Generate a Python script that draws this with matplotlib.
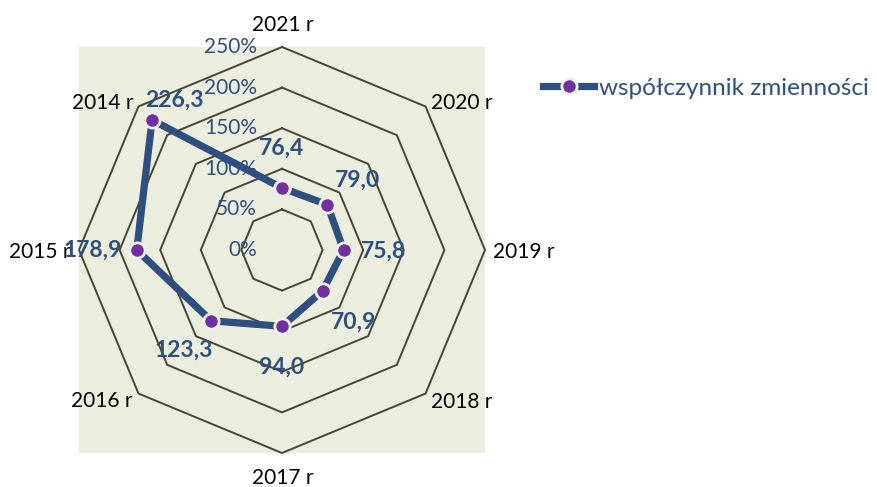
import numpy as np
import matplotlib
matplotlib.use("Agg")
import matplotlib.pyplot as plt
from matplotlib.patches import Rectangle

plt.rcParams['font.family'] = ['Lato', 'DejaVu Sans']

categories = ["2021 r", "2020 r", "2019 r", "2018 r", "2017 r", "2016 r", "2015 r", "2014 r"]
values = [76.4, 79.0, 75.8, 70.9, 94.0, 123.3, 178.9, 226.3]
value_labels = ["76,4", "79,0", "75,8", "70,9", "94,0", "123,3", "178,9", "226,3"]
r_ticks = [0, 50, 100, 150, 200, 250]
r_tick_labels = ["0%", "50%", "100%", "150%", "200%", "250%"]
series_name = "współczynnik zmienności"

W, H = 877, 487
fig = plt.figure(figsize=(W / 100, H / 100), dpi=100)

# background square of plot area
cx, cy, R = 282, 250, 203
fig.patches.append(Rectangle(((cx - R) / W, 1 - (cy + R) / H), 2 * R / W, 2 * R / H,
                             transform=fig.transFigure, facecolor="#EBEEDF",
                             edgecolor="none", zorder=0))

ax = fig.add_axes([(cx - R) / W, 1 - (cy + R) / H, 2 * R / W, 2 * R / H], projection="polar")
ax.set_zorder(2)
ax.patch.set_visible(False)
ax.set_theta_zero_location("N")
ax.set_theta_direction(-1)
ax.set_ylim(0, 250)
ax.grid(False)
ax.spines["polar"].set_visible(False)
ax.set_xticks([])
ax.set_yticks([])

n = len(categories)
theta = np.arange(n) * 2 * np.pi / n
theta_closed = np.append(theta, theta[0])

grid_color = "#4A4530"
for r in r_ticks[1:]:
    ax.plot(theta_closed, [r] * (n + 1), color=grid_color, lw=1.4, zorder=1, clip_on=False)

line_color = "#2F4F80"
vals_closed = values + [values[0]]
ln, = ax.plot(theta_closed, vals_closed, color=line_color, lw=5.2, zorder=3,
              marker="o", markersize=11, markerfacecolor="#7030A0",
              markeredgecolor="#F2F0E6", markeredgewidth=2, label=series_name,
              solid_joinstyle="round", clip_on=False)

# percent labels
for r, lab in zip(r_ticks, r_tick_labels):
    ax.annotate(lab, xy=(0, r), xytext=(-25 * 0.72, 0), textcoords="offset points",
                ha="right", va="center", fontsize=15, color="#2F4F80", zorder=2,
                annotation_clip=False)

# category labels (offsets in px from outer vertex, baseline aligned)
cat_off_px = [(1, 16), (36.5, -2.5), (38.5, -8), (36.5, -14.5), (1, -30.5),
              (-36.5, -13.5), (-39, -8), (-36, -2.5)]
for t, lab, (dx, dy) in zip(theta, categories, cat_off_px):
    ax.annotate(lab, xy=(t, r_ticks[-1]), xytext=(dx * 0.72, dy * 0.72),
                textcoords="offset points", ha="center", va="baseline",
                fontsize=15, color="black", annotation_clip=False)

# value labels
offsets_px = [(0, 40), (30, 24), (40, -1), (31, -31), (0, -41), (-27, -29), (-44, 0), (22, 20)]
for t, v, lab, (dx, dy) in zip(theta, values, value_labels, offsets_px):
    ax.annotate(lab, xy=(t, v), xytext=(dx * 0.72, dy * 0.72), textcoords="offset points",
                ha="center", va="center", fontsize=16.5, fontweight="bold", color="#2F4F80",
                zorder=5, annotation_clip=False)

leg = fig.legend(handles=[ln], loc="center left", bbox_to_anchor=(543 / W, 1 - 88 / H),
                 frameon=False, fontsize=17.5, handlelength=2.1, handletextpad=0.2,
                 borderpad=0, borderaxespad=0, numpoints=1)
for txt in leg.get_texts():
    txt.set_color("#2F4F80")

fig.savefig("out.png", dpi=100)
